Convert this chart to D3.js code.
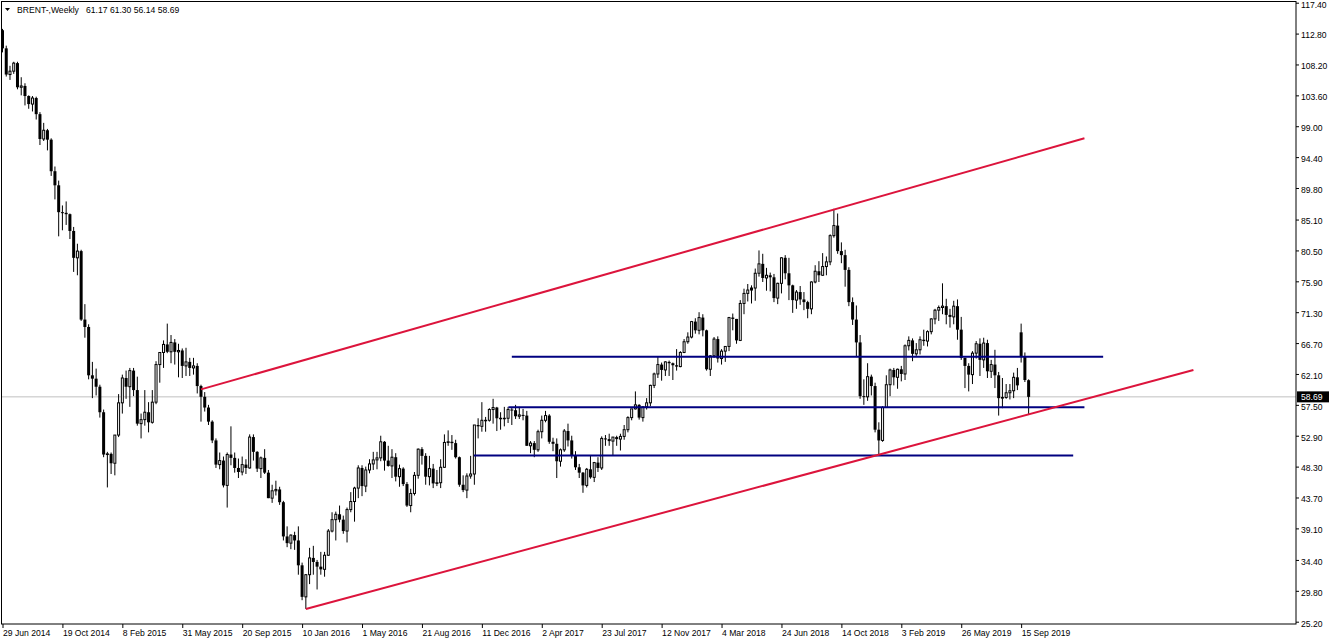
<!DOCTYPE html>
<html>
<head>
<meta charset="utf-8">
<script src="https://cdn.jsdelivr.net/npm/d3@7"></script>
<style>
  html, body { margin: 0; padding: 0; background: #fff; }
  svg { display: block; }
  text { font-family: "Liberation Sans", Arial, sans-serif; }
</style>
</head>
<body>
<svg id="chart" width="1332" height="644"></svg>
<script>
// ---------------- DATA (weekly BRENT candles, week starting 29 Jun 2014) ----------------
const firstWeek = "29 Jun 2014";

const opens = [
113.3,110.6,106.7,107.2,108.4,104.8,105.0,103.5,102.3,103.2,
100.8,97.1,98.4,97.0,92.3,90.2,86.2,86.1,85.9,83.4,
79.4,80.4,70.2,69.1,61.9,61.4,60.2,56.4,50.1,50.2,
48.8,53.0,57.8,61.5,60.2,62.6,59.7,54.7,55.3,56.4,
54.9,57.9,63.5,65.3,66.5,65.4,66.8,65.4,65.6,63.3,
63.9,63.0,63.3,60.3,58.7,57.1,55.0,52.2,48.6,49.2,
45.5,50.1,49.6,48.1,47.5,48.6,48.1,52.7,50.5,48.0,
49.6,47.4,43.6,44.7,44.9,43.0,37.9,36.9,38.1,37.3,
33.6,28.9,32.2,34.7,34.1,33.4,33.0,35.1,38.7,40.4,
41.2,40.4,38.7,41.9,43.1,45.1,48.1,45.4,47.8,48.7,
49.3,49.6,52.0,49.2,48.4,49.7,46.8,48.0,45.7,42.5,
44.3,47.0,50.9,49.9,46.8,48.0,45.8,45.9,48.2,51.9,
52.0,51.8,49.7,45.6,44.8,46.9,47.2,54.5,54.3,55.2,
55.2,56.8,57.1,55.5,55.5,55.5,56.8,56.7,55.8,56.0,
55.9,51.4,51.8,50.8,53.5,55.2,55.9,52.0,51.7,49.1,
50.8,53.6,52.2,50.0,48.2,47.4,45.5,47.9,46.7,48.9,
48.1,52.5,52.4,52.1,52.7,52.4,52.8,53.8,55.6,56.9,
57.5,55.6,57.2,57.8,60.4,62.1,63.5,62.7,63.9,63.7,
63.4,63.2,65.3,66.9,67.6,69.9,68.6,70.5,68.6,62.8,
64.8,67.3,64.4,65.5,66.2,70.5,70.3,67.1,72.6,74.1,
74.6,74.9,77.1,78.5,76.4,76.8,76.5,73.4,75.6,79.4,
77.1,75.3,73.1,74.3,73.2,72.8,71.8,75.8,77.4,76.8,
78.1,78.8,82.7,84.2,80.4,79.8,77.6,72.8,70.2,66.8,
58.8,58.7,61.7,60.3,53.8,52.2,57.1,60.5,62.7,61.6,
62.8,62.1,66.3,67.1,65.1,65.7,67.2,67.0,68.4,70.3,
71.6,72.0,72.2,70.9,70.6,72.2,68.7,64.5,63.3,62.0,
65.2,66.6,64.2,66.7,62.5,63.5,61.9,58.5,58.6,59.3,
59.6,61.6,68.3,64.7,61.17
];

const highs = [
113.5,111.0,108.0,108.6,108.6,106.3,105.4,103.6,103.5,103.4,
101.1,99.5,98.6,97.2,93.0,90.9,87.2,87.8,86.0,84.0,
81.5,80.6,72.5,69.5,63.9,62.9,60.5,56.8,50.5,50.4,
53.0,59.1,62.0,62.6,63.0,63.0,61.7,56.2,59.7,57.9,
59.7,64.0,65.3,67.1,69.6,67.9,67.3,66.6,65.9,66.0,
64.5,64.5,63.7,60.5,59.4,57.5,55.2,52.5,50.4,49.8,
50.4,54.3,50.4,49.5,49.8,49.4,53.1,53.1,50.6,49.8,
50.9,47.8,45.6,46.2,45.3,43.2,39.4,38.2,38.6,39.4,
34.0,32.3,36.2,36.5,34.4,35.6,35.6,39.0,41.5,41.6,
42.5,41.0,42.2,44.5,45.3,48.5,48.5,48.3,49.4,50.5,
50.5,52.9,52.1,51.4,50.9,50.3,48.6,48.2,46.0,45.0,
47.5,51.0,51.2,50.3,49.9,48.7,47.8,49.4,53.1,53.7,
53.0,52.3,49.8,47.0,47.3,49.9,54.5,55.5,57.9,55.7,
57.0,58.4,57.2,56.4,57.2,57.2,57.1,57.5,57.2,56.9,
56.6,52.1,52.1,53.8,55.9,56.6,56.1,52.6,52.5,51.0,
53.9,54.7,52.9,50.6,48.7,47.5,48.1,49.9,49.0,49.7,
52.8,53.0,53.2,52.7,52.9,53.2,54.5,55.8,56.9,59.5,
57.6,57.3,58.5,60.5,62.3,64.7,63.8,64.0,64.1,63.8,
65.8,65.5,67.3,68.3,70.0,70.4,71.3,71.0,68.7,64.9,
67.6,67.7,65.8,66.2,70.6,71.1,70.3,73.1,74.8,75.5,
75.3,77.8,80.5,80.0,77.9,77.2,77.0,75.7,79.5,79.8,
79.4,75.4,74.6,75.2,74.3,73.0,75.9,78.3,78.9,80.1,
79.6,82.9,86.7,86.0,81.7,80.6,78.0,73.5,72.3,67.9,
61.3,63.7,62.0,60.8,54.9,57.3,61.9,62.9,63.0,62.9,
63.3,66.5,67.7,67.4,66.7,67.7,68.7,68.6,70.4,71.8,
72.3,75.6,73.3,71.8,73.0,73.2,70.6,64.5,63.7,65.5,
67.0,67.4,67.5,67.2,64.2,65.7,62.4,61.5,60.6,60.6,
62.3,63.0,69.6,65.3,61.30
];

const lows = [
110.0,106.4,105.9,106.8,104.5,103.6,102.1,101.6,101.2,100.0,
96.2,96.8,95.4,91.6,88.1,82.6,83.5,84.3,82.2,77.3,
76.8,70.0,67.5,61.3,58.5,58.9,55.6,49.7,45.2,47.2,
47.0,52.7,56.2,58.4,57.2,58.8,54.4,52.5,54.4,53.4,
54.7,57.6,60.8,63.0,65.2,63.7,63.5,61.6,61.5,61.8,
61.8,62.0,59.2,55.0,56.5,54.5,51.8,48.1,47.9,45.2,
42.2,48.5,47.4,46.6,47.0,47.2,48.0,49.2,47.5,46.6,
47.2,43.6,42.9,44.0,42.6,37.3,36.3,36.0,35.9,32.2,
28.4,27.1,30.8,32.2,30.0,32.2,31.9,35.0,38.5,37.3,
40.0,38.3,37.0,41.5,40.1,43.6,43.9,44.5,47.3,47.8,
47.9,49.1,47.7,48.3,46.6,46.1,45.3,45.4,42.3,41.5,
44.0,46.5,48.6,45.6,45.5,45.1,45.4,45.1,48.1,51.4,
50.8,49.5,45.3,44.5,43.6,46.5,45.6,52.5,53.5,53.5,
55.0,54.7,53.6,53.8,54.3,54.8,54.5,55.4,55.4,55.2,
51.4,50.3,49.7,50.5,52.5,54.9,51.7,50.6,46.6,48.3,
50.5,51.3,49.5,47.8,46.6,44.4,45.2,46.5,46.0,47.5,
47.8,51.4,51.4,49.9,51.4,50.7,52.3,53.4,55.2,56.8,
55.3,55.0,56.8,57.3,60.0,61.5,61.1,61.8,61.8,61.2,
62.6,63.1,65.2,66.6,67.4,68.1,68.0,67.7,62.6,61.8,
64.5,63.8,63.5,63.9,65.5,68.6,66.6,67.0,71.0,72.9,
72.6,73.0,76.6,75.8,74.5,74.4,72.8,72.5,74.1,76.2,
73.1,71.2,71.8,72.4,71.6,70.4,71.0,75.6,75.8,76.7,
76.8,78.3,82.4,80.0,78.6,75.1,72.2,69.4,64.6,58.4,
57.5,58.1,58.9,53.4,50.0,52.0,57.1,58.8,60.4,59.9,
61.0,61.2,65.6,64.0,64.8,65.0,66.3,66.2,68.0,69.5,
70.0,71.0,69.5,69.0,69.5,67.2,64.2,60.0,59.5,60.6,
64.4,61.8,63.0,61.5,61.5,60.0,55.9,57.0,58.4,58.3,
58.5,59.7,63.8,60.9,56.14
];

const closes = [
110.6,106.7,107.2,108.4,104.8,105.0,103.5,102.3,103.2,100.8,
97.1,98.4,97.0,92.3,90.2,86.2,86.1,85.9,83.4,79.4,
80.4,70.2,69.1,61.9,61.4,60.2,56.4,50.1,50.2,48.8,
53.0,57.8,61.5,60.2,62.6,59.7,54.7,55.3,56.4,54.9,
57.9,63.5,65.3,66.5,65.4,66.8,65.4,65.6,63.3,63.9,
63.0,63.3,60.3,58.7,57.1,55.0,52.2,48.6,49.2,45.5,
50.1,49.6,48.1,47.5,48.6,48.1,52.7,50.5,48.0,49.6,
47.4,43.6,44.7,44.9,43.0,37.9,36.9,38.1,37.3,33.6,
28.9,32.2,34.7,34.1,33.4,33.0,35.1,38.7,40.4,41.2,
40.4,38.7,41.9,43.1,45.1,48.1,45.4,47.8,48.7,49.3,
49.6,52.0,49.2,48.4,49.7,46.8,48.0,45.7,42.5,44.3,
47.0,50.9,49.9,46.8,48.0,45.8,45.9,48.2,51.9,52.0,
51.8,49.7,45.6,44.8,46.9,47.2,54.5,54.3,55.2,55.2,
56.8,57.1,55.5,55.5,55.5,56.8,56.7,55.8,56.0,55.9,
51.4,51.8,50.8,53.5,55.2,55.9,52.0,51.7,49.1,50.8,
53.6,52.2,50.0,48.2,47.4,45.5,47.9,46.7,48.9,48.1,
52.5,52.4,52.1,52.7,52.4,52.8,53.8,55.6,56.9,57.5,
55.6,57.2,57.8,60.4,62.1,63.5,62.7,63.9,63.7,63.4,
63.2,65.3,66.9,67.6,69.9,68.6,70.5,68.6,62.8,64.8,
67.3,64.4,65.5,66.2,70.5,70.3,67.1,72.6,74.1,74.6,
74.9,77.1,78.5,76.4,76.8,76.5,73.4,75.6,79.4,77.1,
75.3,73.1,74.3,73.2,72.8,71.8,75.8,77.4,76.8,78.1,
78.8,82.7,84.2,80.4,79.8,77.6,72.8,70.2,66.8,58.8,
58.7,61.7,60.3,53.8,52.2,57.1,60.5,62.7,61.6,62.8,
62.1,66.3,67.1,65.1,65.7,67.2,67.0,68.4,70.3,71.6,
72.0,72.2,70.9,70.6,72.2,68.7,64.5,63.3,62.0,65.2,
66.6,64.2,66.7,62.5,63.5,61.9,58.5,58.6,59.3,59.6,
61.6,60.4,64.7,61.2,58.69
];

// Date axis labels (every 16 weeks)
const dateTickLabels = [
  "29 Jun 2014","19 Oct 2014","8 Feb 2015","31 May 2015","20 Sep 2015","10 Jan 2016",
  "1 May 2016","21 Aug 2016","11 Dec 2016","2 Apr 2017","23 Jul 2017","12 Nov 2017",
  "4 Mar 2018","24 Jun 2018","14 Oct 2018","3 Feb 2019","26 May 2019","15 Sep 2019"
];

// Price axis labels
const priceTicks = [117.40,112.80,108.20,103.60,99.00,94.40,89.80,85.10,80.50,75.90,
  71.30,66.70,62.10,57.50,52.90,48.30,43.70,39.10,34.40,29.80,25.20];

const headerSymbol = "BRENT-,Weekly";
const lastPrice = 58.69;

// Drawn objects (week index, price)
const channelUpper = [[53, 59.8], [288.9, 97.2]];
const channelLower = [[81, 27.1], [318, 62.7]];
const levelLines = [
  { from: 136.0, to: 293.9, price: 64.65 },
  { from: 135.1, to: 288.9, price: 57.15 },
  { from: 125.9, to: 285.9, price: 49.95 }
];

// ---------------- CHART ----------------
const svg = d3.select("#chart");
const plotLeft = 1.5, plotTop = 1.5, plotRight = 1296, plotBottom = 624;

const parse = d3.timeParse("%d %b %Y");
const start = parse(firstWeek);
const weekDates = closes.map((_, i) => d3.timeWeek.offset(start, i));
const weekIndex = s => Math.round(d3.timeDay.count(start, parse(s)) / 7);

const n = closes.length;
const x = d3.scaleLinear().domain([0, n - 1]).range([2.5, 2.5 + 3.745 * (n - 1)]);
const y = d3.scaleLinear().domain([25.20, 117.40]).range([621.7, 2.7]);

svg.append("defs").append("clipPath").attr("id", "plotclip")
  .append("rect").attr("x", plotLeft).attr("y", plotTop)
  .attr("width", plotRight - plotLeft).attr("height", plotBottom - plotTop);

const plot = svg.append("g").attr("clip-path", "url(#plotclip)");

// current price line
plot.append("line")
  .attr("x1", plotLeft).attr("x2", plotRight)
  .attr("y1", y(lastPrice)).attr("y2", y(lastPrice))
  .attr("stroke", "#c0c0c0").attr("stroke-width", 1);

// candles
const candles = d3.range(n).map(i => ({
  i, date: weekDates[i], o: opens[i], h: highs[i], l: lows[i], c: closes[i]
}));

const cg = plot.append("g");
cg.selectAll("line.wick").data(candles).join("line")
  .attr("class", "wick")
  .attr("x1", d => x(d.i)).attr("x2", d => x(d.i))
  .attr("y1", d => y(d.h)).attr("y2", d => y(d.l))
  .attr("stroke", "#000").attr("stroke-width", 1);

cg.selectAll("rect.bear").data(candles.filter(d => d.c < d.o)).join("rect")
  .attr("class", "bear")
  .attr("x", d => x(d.i) - 1.5).attr("width", 3)
  .attr("y", d => y(d.o))
  .attr("height", d => Math.max(1, y(d.c) - y(d.o)))
  .attr("fill", "#000");

cg.selectAll("rect.bull").data(candles.filter(d => d.c >= d.o)).join("rect")
  .attr("class", "bull")
  .attr("x", d => x(d.i) - 1).attr("width", 2)
  .attr("y", d => y(d.c))
  .attr("height", d => Math.max(0.5, y(d.o) - y(d.c)))
  .attr("fill", "#fff").attr("stroke", "#000").attr("stroke-width", 1);

// horizontal levels
plot.selectAll("line.level").data(levelLines).join("line")
  .attr("class", "level")
  .attr("x1", d => x(d.from)).attr("x2", d => x(d.to))
  .attr("y1", d => y(d.price)).attr("y2", d => y(d.price))
  .attr("stroke", "#000080").attr("stroke-width", 2);

// trend channel
const tl = d3.line().x(d => x(d[0])).y(d => y(d[1]));
[channelUpper, channelLower].forEach(pts => {
  plot.append("path").attr("d", tl(pts))
    .attr("fill", "none").attr("stroke", "#dc143c").attr("stroke-width", 2);
});

// frame
svg.append("rect")
  .attr("x", plotLeft).attr("y", plotTop)
  .attr("width", plotRight - plotLeft).attr("height", plotBottom - plotTop)
  .attr("fill", "none").attr("stroke", "#000").attr("stroke-width", 1);

// price axis
const yAxis = d3.axisRight(y).tickValues(priceTicks).tickSize(3).tickSizeOuter(0)
  .tickFormat(d3.format(".2f"));
const ya = svg.append("g").attr("transform", `translate(${plotRight},0)`).call(yAxis);
ya.select(".domain").remove();
ya.selectAll("line").attr("stroke", "#000");
ya.selectAll("text").attr("x", 5).attr("dy", "0.5em").attr("font-size", "8.6px")
  .attr("font-family", "'Liberation Sans', Arial, sans-serif").attr("fill", "#000");

// date axis
const xAxis = d3.axisBottom(x).tickValues(dateTickLabels.map(weekIndex)).tickSize(4).tickSizeOuter(0)
  .tickFormat((d, k) => dateTickLabels[k]);
const xa = svg.append("g").attr("transform", `translate(0,${plotBottom})`).call(xAxis);
xa.select(".domain").remove();
xa.selectAll("line").attr("stroke", "#000");
xa.selectAll("text").attr("text-anchor", "start").attr("x", 0).attr("y", 6)
  .attr("font-size", "8.6px").attr("font-family", "'Liberation Sans', Arial, sans-serif")
  .attr("fill", "#000");

// last price marker
const lp = svg.append("g").attr("transform", `translate(${plotRight + 1},${y(lastPrice)})`);
lp.append("rect").attr("x", 0).attr("y", -5.5).attr("width", 32).attr("height", 11).attr("fill", "#000");
lp.append("text").attr("x", 4).attr("y", 3.2).attr("fill", "#fff")
  .attr("font-size", "8.6px").text(d3.format(".2f")(lastPrice));

// header
svg.append("path").attr("d", "M5,8 L10,8 L7.5,11 Z").attr("fill", "#000");
const hdr = svg.append("text").attr("x", 17).attr("y", 13).attr("font-size", "8.6px").attr("fill", "#000");
hdr.append("tspan").text(headerSymbol);
hdr.append("tspan").attr("x", 86).text([opens[n-1], highs[n-1], lows[n-1], closes[n-1]].map(d3.format(".2f")).join(" "));
</script>
</body>
</html>
